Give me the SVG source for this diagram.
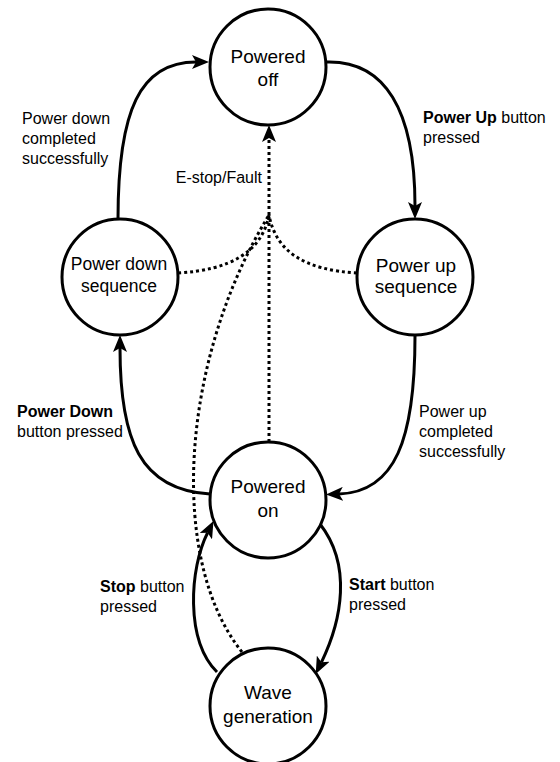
<svg xmlns="http://www.w3.org/2000/svg" width="560" height="762" viewBox="0 0 560 762">
<style>
.node{fill:#fff;stroke:#000;stroke-width:3}
.nl{font-family:"Liberation Sans",Arial,sans-serif;font-size:19px;fill:#000;text-anchor:middle}
.el{font-family:"Liberation Sans",Arial,sans-serif;font-size:16px;fill:#000}
.b{font-weight:bold}
.e{fill:none;stroke:#000;stroke-width:3}
.d{fill:none;stroke:#000;stroke-width:3;stroke-dasharray:3 3}
</style>
<defs>
<marker id="arr" markerUnits="userSpaceOnUse" markerWidth="17" markerHeight="14" refX="4" refY="7" orient="auto" viewBox="0 0 17 14">
<path d="M0,0 L17,7 L0,14 L4,7 z" fill="#000"/>
</marker>
</defs>
<rect width="560" height="762" fill="#fff"/>
<g id="connectors">
<path class="e" d="M326,62 C385,60 415,110 415,206" marker-end="url(#arr)"/>
<path class="e" d="M415,336 C415,440 395,492 339,494" marker-end="url(#arr)"/>
<path class="e" d="M210,494 C140,490 120,440 120,348" marker-end="url(#arr)"/>
<path class="e" d="M118,219 C118,110 140,62 196,62" marker-end="url(#arr)"/>
<path class="e" d="M320,524 C352,565 342,620 321.4,662.3" marker-end="url(#arr)"/>
<path class="e" d="M217,672 C185,640 189.6,568.3 207.6,532.7" marker-end="url(#arr)"/>
<path class="d" d="M269,442 L269,215"/>
<path class="d" d="M178,273 C230,270 262,252 269,215"/>
<path class="d" d="M357,273 C305,270 276,252 269,215"/>
<path class="d" d="M242,652 C168,560 180,360 269,215"/>
<path class="d" d="M269,215 L269,138" marker-end="url(#arr)"/>
</g>
<g id="powered-off">
<circle class="node" cx="268" cy="67" r="58"/>
<text class="nl" x="268" y="63">Powered</text>
<text class="nl" x="268" y="86">off</text>
</g>
<g id="power-down-sequence">
<circle class="node" cx="120" cy="277" r="58"/>
<text class="nl" x="119" y="270" style="font-size:17.5px">Power down</text>
<text class="nl" x="119" y="292" style="font-size:17.5px">sequence</text>
</g>
<g id="power-up-sequence">
<circle class="node" cx="415" cy="277" r="58"/>
<text class="nl" x="416" y="272">Power up</text>
<text class="nl" x="416" y="293">sequence</text>
</g>
<g id="powered-on">
<circle class="node" cx="268" cy="500" r="58"/>
<text class="nl" x="268" y="493">Powered</text>
<text class="nl" x="268" y="517">on</text>
</g>
<g id="wave-generation">
<circle class="node" cx="268" cy="706" r="58"/>
<text class="nl" x="268" y="699">Wave</text>
<text class="nl" x="268" y="723">generation</text>
</g>
<g id="labels">
<text class="el" x="22" y="124">Power down</text>
<text class="el" x="22" y="144">completed</text>
<text class="el" x="22" y="164">successfully</text>
<text class="el" x="262" y="183" text-anchor="end">E-stop/Fault</text>
<text class="el" x="423" y="123"><tspan class="b">Power Up</tspan> button</text>
<text class="el" x="423" y="143">pressed</text>
<text class="el" x="17" y="417"><tspan class="b">Power Down</tspan></text>
<text class="el" x="17" y="437">button pressed</text>
<text class="el" x="419" y="417">Power up</text>
<text class="el" x="419" y="437">completed</text>
<text class="el" x="419" y="457">successfully</text>
<text class="el" x="100" y="592"><tspan class="b">Stop</tspan> button</text>
<text class="el" x="100" y="612">pressed</text>
<text class="el" x="349" y="590"><tspan class="b">Start</tspan> button</text>
<text class="el" x="349" y="610">pressed</text>
</g>
</svg>
